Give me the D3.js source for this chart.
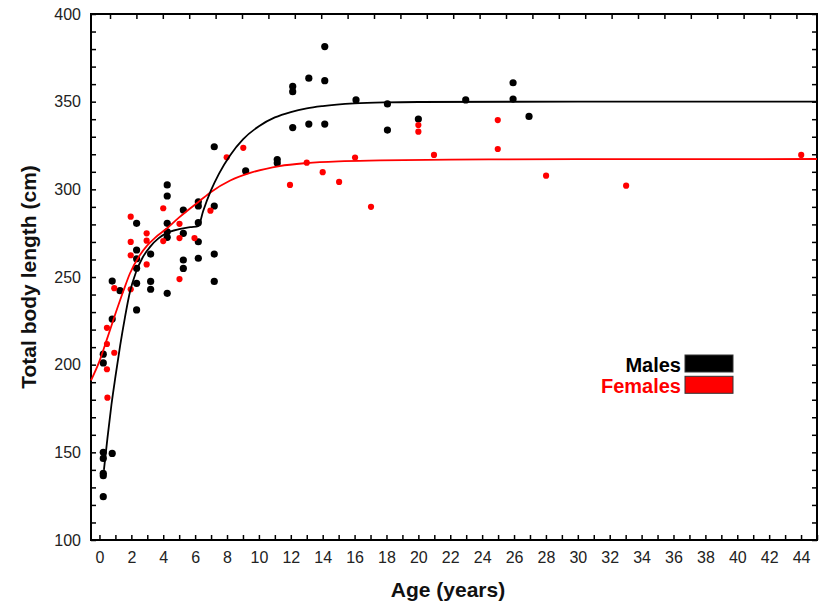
<!DOCTYPE html>
<html>
<head>
<meta charset="utf-8">
<script src="https://cdn.jsdelivr.net/npm/d3@7"></script>
<style>
  html, body { margin: 0; padding: 0; background: #fff; }
  svg { display: block; font-family: "Liberation Sans", Arial, sans-serif; }
</style>
</head>
<body>
<svg id="chart" width="822" height="603"></svg>
<script>
// ---------- data ----------
const seriesNames = ["Males", "Females"];
const seriesColors = ["#000000", "#ff0000"];

// [age (years), total body length (cm)]
const malePoints = [
  [0.24,206],[0.24,201],[0.24,150],[0.24,146.5],[0.24,138],[0.24,136.7],[0.24,124.7],
  [0.8,149.4],[0.8,247.7],[0.8,226],[1.29,242.2],
  [2.33,280.6],[2.33,265.4],[2.33,260.4],[2.33,255],[2.33,246.4],[2.33,231.2],
  [3.21,263.1],[3.21,247.5],[3.21,243],
  [4.25,302.5],[4.25,296.2],[4.25,280.6],[4.25,275.8],[4.25,272.6],[4.25,240.7],
  [5.26,288.2],[5.26,274.9],[5.26,259.7],[5.26,254.9],
  [6.2,292.9],[6.2,290.5],[6.2,281],[6.2,270.1],[6.2,260.7],
  [7.2,324.3],[7.2,290.5],[7.2,263.1],[7.2,247.5],
  [9.17,310.5],
  [11.15,317],[11.15,315],
  [12.12,358.7],[12.12,355.7],[12.12,335.2],
  [13.13,363.4],[13.13,337.2],
  [14.13,381.4],[14.13,362],[14.13,337.2],
  [16.09,351],
  [18.06,348.7],[18.06,333.8],
  [20,340.1],
  [22.97,351],
  [25.94,360.8],[25.94,351.5],
  [26.94,341.6]
];

const femalePoints = [
  [0.47,221],[0.47,211.8],[0.47,197.4],[0.5,181.2],[0.93,243.6],[0.93,206.8],
  [1.96,284.4],[1.96,270],[1.96,262.4],[1.96,243],
  [2.96,274.9],[2.96,270.7],[2.96,257.2],
  [4.0,289.2],[4.0,270.5],
  [5.02,280.3],[5.02,272.2],[5.02,248.8],
  [5.96,272.2],
  [6.96,287.8],
  [7.98,318.3],
  [9.02,323.7],
  [11.95,302.5],[13,315.2],[14,309.8],[15.03,304.2],[16.03,318.1],[17.03,290],
  [20,336.7],[20,332.9],[20.98,319.6],[24.98,339.5],[24.98,323],
  [28.01,307.8],[33.03,302.1],[44.01,319.6]
];

// fitted growth curves
const maleCurve = [
  [0.28,140],[0.5,158],[0.75,177],[1.0,193],[1.3,211],[1.6,227],[1.9,241],[2.3,253],
  [2.7,261],[3.2,267.5],[3.7,272],[4.2,275],[5.0,277.3],[5.7,278.4],[6.2,279],
  [6.5,287.5],[7.0,299.5],[7.5,309],[8.2,319.5],[9.0,328.5],[10.0,336],[11.0,341],
  [12.0,344.1],[13.0,346.2],[14.0,347.5],[16.0,349],[18.0,349.6],[20.0,349.8],
  [30,350],[45,350]
];
const femaleCurve = [
  [-0.53,191],[0,202],[0.45,214],[1,229],[1.5,242],[1.91,252],[2.5,262],[3,268],
  [3.5,272.5],[4.2,277.5],[5,284],[6.3,293.5],[7,298.5],[8.2,305],[9.5,309.5],
  [11.3,313.3],[13,315],[15,316],[17.6,316.5],[22,317],[30,317.2],[45,317.3]
];

const xTickValues = d3.range(0, 46, 1);
const xLabelValues = d3.range(0, 46, 2);
const yTickValues = d3.range(100, 401, 10);
const yLabelValues = [100, 150, 200, 250, 300, 350, 400];
const xTitle = "Age (years)";
const yTitle = "Total body length (cm)";

// ---------- layout ----------
const svg = d3.select("#chart");
const L = 91, R = 817, T = 14, B = 540;
const x = d3.scaleLinear().domain([-0.53, 45.0]).range([L, R]);
const y = d3.scaleLinear().domain([100, 400]).range([B, T]);
// secondary (unlabelled) scale used for top frame ticks
const xTop = d3.scaleLinear().domain([-0.72, (R - L) / 26.4 - 0.72]).range([L, R]);

const tickLen = 5;
const tickColor = "#000";
const labelColor = "#222";

// bottom axis (inward ticks)
const gB = svg.append("g").attr("transform", `translate(0,${B})`)
  .call(d3.axisBottom(x).tickValues(xTickValues).tickSizeInner(-tickLen).tickSizeOuter(0)
        .tickFormat(d => xLabelValues.includes(d) ? d : ""));
gB.select(".domain").remove();
gB.selectAll(".tick line").attr("stroke", tickColor).attr("stroke-width", 1.5);
gB.selectAll(".tick text").attr("y", 12).attr("dy", "0.71em")
  .attr("font-size", 16).attr("fill", labelColor)
  .attr("font-family", "'Liberation Sans', Arial, sans-serif");

// left axis
const gL = svg.append("g").attr("transform", `translate(${L},0)`)
  .call(d3.axisLeft(y).tickValues(yTickValues).tickSizeInner(-tickLen).tickSizeOuter(0)
        .tickFormat(d => yLabelValues.includes(d) ? d : ""));
gL.select(".domain").remove();
gL.selectAll(".tick line").attr("stroke", tickColor).attr("stroke-width", 1.5);
gL.selectAll(".tick text").attr("x", -10)
  .attr("font-size", 16).attr("fill", labelColor)
  .attr("font-family", "'Liberation Sans', Arial, sans-serif");

// right axis
const gR = svg.append("g").attr("transform", `translate(${R},0)`)
  .call(d3.axisRight(y).tickValues(yTickValues).tickSizeInner(-tickLen).tickSizeOuter(0).tickFormat(""));
gR.select(".domain").remove();
gR.selectAll(".tick line").attr("stroke", tickColor).attr("stroke-width", 1.5);

// top axis
const gT = svg.append("g").attr("transform", `translate(0,${T})`)
  .call(d3.axisTop(xTop).ticks(30).tickSizeInner(-tickLen).tickSizeOuter(0).tickFormat(""));
gT.select(".domain").remove();
gT.selectAll(".tick line").attr("stroke", tickColor).attr("stroke-width", 1.5);
gT.selectAll(".tick").filter(d => xTop(d) < L + 2 || xTop(d) > R - 2).remove();

// frame
svg.append("rect").attr("x", L).attr("y", T).attr("width", R - L).attr("height", B - T)
  .attr("fill", "none").attr("stroke", "#000").attr("stroke-width", 2);

// points
const plot = svg.append("g");
plot.selectAll("circle.m").data(malePoints).join("circle").attr("class", "m")
  .attr("cx", d => x(d[0])).attr("cy", d => y(d[1])).attr("r", 3.6).attr("fill", seriesColors[0]);
plot.selectAll("circle.f").data(femalePoints).join("circle").attr("class", "f")
  .attr("cx", d => x(d[0])).attr("cy", d => y(d[1])).attr("r", 3.1).attr("fill", seriesColors[1]);

// curves
const line = d3.line().x(d => x(d[0])).y(d => y(d[1])).curve(d3.curveMonotoneX);
plot.append("path").datum(femaleCurve).attr("d", line).attr("fill", "none")
  .attr("stroke", seriesColors[1]).attr("stroke-width", 1.8);
plot.append("path").datum(maleCurve).attr("d", line).attr("fill", "none")
  .attr("stroke", seriesColors[0]).attr("stroke-width", 1.8);

// axis titles
svg.append("text").attr("x", 448).attr("y", 597)
  .attr("text-anchor", "middle").attr("font-weight", "bold").attr("font-size", 21)
  .attr("fill", "#111").text(xTitle);
svg.append("text").attr("transform", `translate(36,${(T + B) / 2}) rotate(-90)`)
  .attr("text-anchor", "middle").attr("font-weight", "bold").attr("font-size", 21)
  .attr("fill", "#111").text(yTitle);

// legend
const leg = svg.append("g");
seriesNames.forEach((name, i) => {
  const yy = 355 + i * 21.3;
  leg.append("rect").attr("x", 685).attr("y", yy).attr("width", 48).attr("height", 17)
    .attr("fill", seriesColors[i]).attr("stroke", "#333").attr("stroke-width", 1);
  leg.append("text").attr("x", 681).attr("y", yy + 16.5).attr("text-anchor", "end")
    .attr("font-weight", "bold").attr("font-size", 20).attr("fill", seriesColors[i]).text(name);
});
</script>
</body>
</html>
